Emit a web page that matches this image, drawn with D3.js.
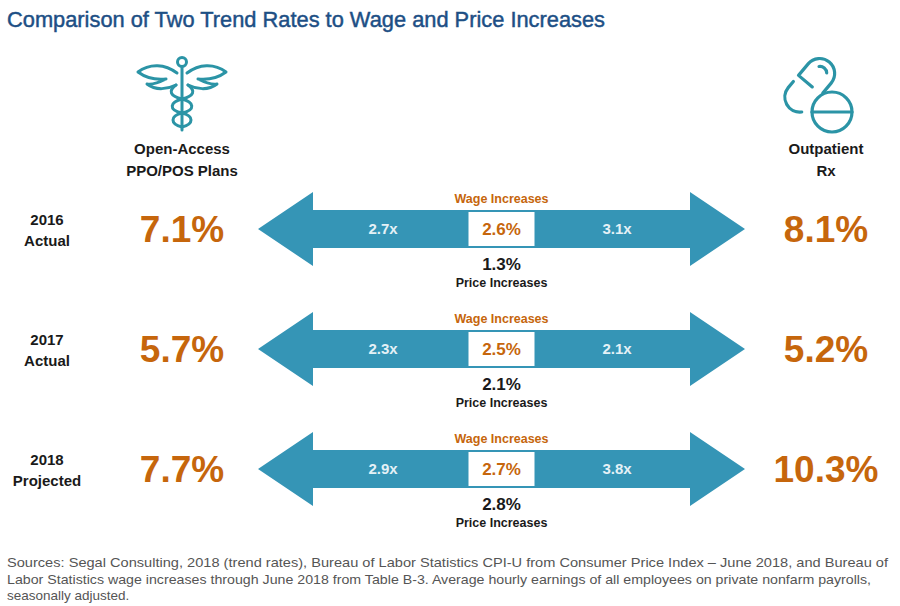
<!DOCTYPE html>
<html><head><meta charset="utf-8">
<script src="https://cdn.jsdelivr.net/npm/d3@7"></script>
<style>
html,body{margin:0;padding:0;background:#fff;}
svg{display:block;font-family:"Liberation Sans",Arial,sans-serif;}
</style></head>
<body><svg id="c" width="900" height="606"></svg>
<script>
const rows = ["2016|Actual", "2017|Actual", "2018|Projected"];
const ppoRates = ["7.1%", "5.7%", "7.7%"];
const rxRates = ["8.1%", "5.2%", "10.3%"];
const wageIncreases = ["2.6%", "2.5%", "2.7%"];
const priceIncreases = ["1.3%", "2.1%", "2.8%"];
const ppoMultiples = ["2.7x", "2.3x", "2.9x"];
const rxMultiples = ["3.1x", "2.1x", "3.8x"];
const title = "Comparison of Two Trend Rates to Wage and Price Increases";
const leftHeader = ["Open-Access", "PPO/POS Plans"];
const rightHeader = ["Outpatient", "Rx"];
const sources = [
 "Sources: Segal Consulting, 2018 (trend rates), Bureau of Labor Statistics CPI-U from Consumer Price Index \u2013 June 2018, and Bureau of",
 "Labor Statistics wage increases through June 2018 from Table B-3. Average hourly earnings of all employees on private nonfarm payrolls,",
 "seasonally adjusted."
];
const sourceWidths = [881, 864, null];

const svg = d3.select("#c");
const teal = "#3595b6", orange = "#c6660c", iconC = "#2b94a6", navy = "#1d4f85";

const y = d3.scalePoint().domain(d3.range(rows.length)).range([229, 469]);
const x = d3.scaleLinear().domain([0, 1]).range([258, 745]);

svg.append("text").attr("x", 7).attr("y", 27).attr("font-size", 21.5)
  .attr("fill", navy).attr("stroke", navy).attr("stroke-width", 0.45).attr("textLength", 598)
  .attr("lengthAdjust", "spacingAndGlyphs").text(title);

// headers
const hdr = (arr, cx) => arr.forEach((t, i) => svg.append("text").attr("x", cx).attr("y", 154 + i * 22)
  .attr("text-anchor", "middle").attr("font-size", 15).attr("font-weight", "bold").attr("fill", "#1a1a1a").text(t));
hdr(leftHeader, 182);
hdr(rightHeader, 826);

// caduceus icon
const cad = svg.append("g").attr("fill", "none").attr("stroke", iconC).attr("stroke-width", 3)
  .attr("stroke-linecap", "round").attr("stroke-linejoin", "round");
cad.append("circle").attr("cx", 182).attr("cy", 62).attr("r", 4.5);
cad.append("line").attr("x1", 182).attr("y1", 67).attr("x2", 182).attr("y2", 130);
cad.append("path").attr("d", "M177,73 C165,64 150,63 138,72 C146,78 156,80 166,79 C158,83 152,85 147,84 C156,91 168,89 176,85");
cad.append("path").attr("d", "M187,73 C199,64 214,63 226,72 C218,78 208,80 198,79 C206,83 212,85 217,84 C208,91 196,89 188,85");
cad.append("path").attr("d", "M176,85 C168,91 170,96 182,99 C194,102 196,110 182,113 C170,116 170,124 182,127");
cad.append("path").attr("d", "M188,85 C196,91 194,96 182,99 C170,102 168,110 182,113 C194,116 194,124 182,127");

// pill icon
const pill = svg.append("g").attr("fill", "none").attr("stroke", iconC).attr("stroke-width", 3.2)
  .attr("stroke-linecap", "round").attr("stroke-linejoin", "round");
const cap = pill.append("g").attr("transform", "translate(810,85) rotate(40)");
cap.append("path").attr("d", "M3,0 L-15,0 L-15,-15 A15,15 0 0 1 15,-15 L15,-2");
cap.append("path").attr("d", "M-5,-20 A6,5 0 0 1 5,-20");
cap.append("path").attr("d", "M-15,8 L-15,16 A15,15 0 0 0 11,26");
pill.append("circle").attr("cx", 832).attr("cy", 112).attr("r", 20);
pill.append("line").attr("x1", 812).attr("y1", 112).attr("x2", 852).attr("y2", 112);

// rows
const headLen = 55, headHalf = 37, shaftHalf = 19;
rows.forEach((r, i) => {
  const cy = y(i), x0 = x(0), x1 = x(1), cx = x(0.5);
  const g = svg.append("g");
  const [yr, kind] = r.split("|");
  g.append("text").attr("x", 47).attr("y", cy - 4).attr("text-anchor", "middle").attr("font-size", 15)
    .attr("font-weight", "bold").attr("fill", "#1a1a1a").text(yr);
  g.append("text").attr("x", 47).attr("y", cy + 17).attr("text-anchor", "middle").attr("font-size", 15)
    .attr("font-weight", "bold").attr("fill", "#1a1a1a").text(kind);
  g.append("text").attr("x", 182).attr("y", cy + 13).attr("text-anchor", "middle").attr("font-size", 37)
    .attr("font-weight", "bold").attr("fill", orange).text(ppoRates[i]);
  g.append("text").attr("x", 826).attr("y", cy + 13).attr("text-anchor", "middle").attr("font-size", 37)
    .attr("font-weight", "bold").attr("fill", orange).text(rxRates[i]);
  const pts = [[x0, cy], [x0 + headLen, cy - headHalf], [x0 + headLen, cy - shaftHalf], [x1 - headLen, cy - shaftHalf],
    [x1 - headLen, cy - headHalf], [x1, cy], [x1 - headLen, cy + headHalf], [x1 - headLen, cy + shaftHalf],
    [x0 + headLen, cy + shaftHalf], [x0 + headLen, cy + headHalf]];
  g.append("path").attr("d", d3.line()(pts) + "Z").attr("fill", teal);
  g.append("rect").attr("x", cx - 33).attr("y", cy - 17).attr("width", 66).attr("height", 34).attr("fill", "#fff");
  g.append("text").attr("x", cx).attr("y", cy + 6).attr("text-anchor", "middle").attr("font-size", 17)
    .attr("font-weight", "bold").attr("fill", orange).text(wageIncreases[i]);
  g.append("text").attr("x", cx).attr("y", cy - 26).attr("text-anchor", "middle").attr("font-size", 12.5)
    .attr("font-weight", "bold").attr("fill", orange).text("Wage Increases");
  g.append("text").attr("x", 383).attr("y", cy + 5).attr("text-anchor", "middle").attr("font-size", 15)
    .attr("font-weight", "bold").attr("fill", "#e4f1f6").text(ppoMultiples[i]);
  g.append("text").attr("x", 617).attr("y", cy + 5).attr("text-anchor", "middle").attr("font-size", 15)
    .attr("font-weight", "bold").attr("fill", "#e4f1f6").text(rxMultiples[i]);
  g.append("text").attr("x", cx).attr("y", cy + 41).attr("text-anchor", "middle").attr("font-size", 17)
    .attr("font-weight", "bold").attr("fill", "#1a1a1a").text(priceIncreases[i]);
  g.append("text").attr("x", cx).attr("y", cy + 58).attr("text-anchor", "middle").attr("font-size", 12.5)
    .attr("font-weight", "bold").attr("fill", "#1a1a1a").text("Price Increases");
});

sources.forEach((t, i) => {
  const tx = svg.append("text").attr("x", 7).attr("y", 567 + i * 16.5).attr("font-size", 13.5)
    .attr("fill", "#555").text(t);
  if (sourceWidths[i]) tx.attr("textLength", sourceWidths[i]).attr("lengthAdjust", "spacingAndGlyphs");
});
</script></body></html>
